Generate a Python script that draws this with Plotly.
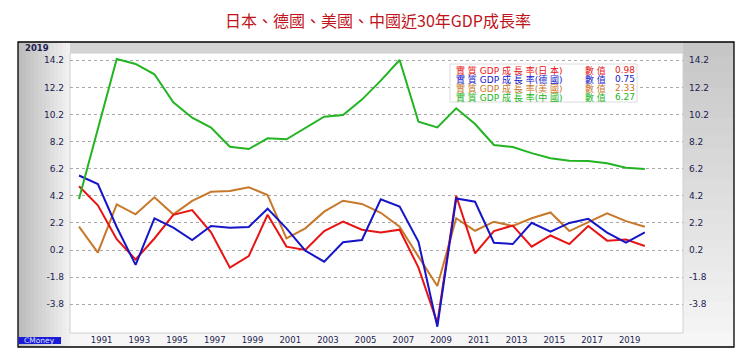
import plotly.graph_objects as go

# ---------------- data ----------------
years = list(range(1990, 2021))

japan = [4.9, 3.5, 1.0, -0.5, 1.05, 2.8, 3.15, 1.5, -1.1, -0.25, 2.8, 0.45, 0.2, 1.6, 2.3,
         1.7, 1.5, 1.7, -1.1, -5.2, 4.2, -0.05, 1.6, 2.0, 0.45, 1.27, 0.64, 1.97, 0.89, 0.98, 0.5]
germany = [5.7, 5.07, 1.9, -0.9, 2.54, 1.85, 0.94, 1.97, 1.85, 1.9, 3.25, 1.8, 0.15, -0.66, 0.77,
           0.94, 3.94, 3.4, 0.81, -5.46, 4.0, 3.76, 0.74, 0.64, 2.21, 1.55, 2.2, 2.5, 1.48, 0.75, 1.5]
usa = [1.92, 0.0, 3.57, 2.83, 4.09, 2.83, 3.82, 4.5, 4.55, 4.83, 4.26, 1.06, 1.8, 3.03, 3.84,
       3.6, 2.95, 1.92, -0.29, -2.46, 2.54, 1.62, 2.29, 1.97, 2.54, 2.97, 1.6, 2.25, 2.91, 2.33, 1.92]
china = [3.96, 9.2, 14.3, 13.93, 13.17, 11.1, 9.96, 9.23, 7.82, 7.65, 8.44, 8.37, 9.18, 10.04, 10.16,
         11.3, 12.7, 14.22, 9.67, 9.25, 10.66, 9.5, 7.95, 7.8, 7.35, 6.97, 6.79, 6.77, 6.6, 6.27, 6.18]

series_names = ["實 質 GDP 成 長 率(日 本)", "實 質 GDP 成 長 率(德 國)",
                "實 質 GDP 成 長 率(美 國)", "實 質 GDP 成 長 率(中 國)"]
value_label = "數 值"
legend_values = ["0.98", "0.75", "2.33", "6.27"]

x_tick_years = list(range(1991, 2020, 2))
x_tick_labels = [str(y) for y in x_tick_years]
y_tick_vals = [-3.8, -1.8, 0.2, 2.2, 4.2, 6.2, 8.2, 10.2, 12.2, 14.2]
y_tick_labels = ["-3.8", "-1.8", "0.2", "2.2", "4.2", "6.2", "8.2", "10.2", "12.2", "14.2"]

title_text = "日本、德國、美國、中國近30年GDP成長率"

# ---------------- styling ----------------
colors = ["#e81414", "#1616c8", "#c8782a", "#22b422"]
navy = "#1c1c50"

PAGE_W, PAGE_H = 754, 361
OFF = 8  # default body margin of the html page
L, R, T, B = 70, 683, 53, 333   # plot area in page pixels
PW, PH = R - L, B - T
LABEL_SHIFT = 0.2  # x tick labels sit slightly right of the year points


def px(x):
    return (x - L) / PW


def py(y):
    return (B - y) / PH


fig = go.Figure()

draw_order = [2, 0, 1, 3]
all_series = [japan, germany, usa, china]
for i in draw_order:
    fig.add_trace(go.Scatter(x=years, y=all_series[i], mode="lines", name=series_names[i],
                             line=dict(color=colors[i], width=2), showlegend=False,
                             hoverinfo="x+y"))

# invisible trace to activate right axis
fig.add_trace(go.Scatter(x=[years[0]], y=[china[0]], yaxis="y2", mode="markers",
                         marker=dict(opacity=0), showlegend=False, hoverinfo="skip"))

shapes = []


def rect(x0, y0, x1, y1, fill, line=None, layer="below"):
    shapes.append(dict(type="rect", xref="paper", yref="paper",
                       x0=px(x0), x1=px(x1), y0=py(y1), y1=py(y0),
                       fillcolor=fill, line=line if line else dict(width=0), layer=layer))


def gray(v):
    v = int(round(v))
    return "#%02x%02x%02x" % (v, v, v)


# frame base
rect(18, 42, 734, 347, "#e2e2e2")
# left panel horizontal gradient
n = 13
for i in range(n):
    x0 = 18 + i * (52 / n)
    rect(x0, 42, x0 + 52 / n + 0.5, 347, gray(0xbc + (0xf0 - 0xbc) * i / (n - 1)))
# top strip
rect(70, 42, 684, 53, "#d4d4d4")
# right panel vertical gradient
n = 20
for i in range(n):
    y0 = 42 + i * (305 / n)
    rect(683, y0, 734, y0 + 305 / n + 0.5, gray(0xc6 + (0xf6 - 0xc6) * i / (n - 1)))
# bottom strip
rect(70, 333, 683, 347, "#f6f6f6")
# white plot panel
rect(70, 53, 683, 333, "white", line=dict(color="#d0d0d0", width=1))
# outer border
rect(18, 42, 734, 347, "rgba(0,0,0,0)", line=dict(color="black", width=1.3))
# CMoney logo background
rect(18.5, 337, 61, 344, "#1a1ad8")
# legend box
rect(450, 64, 637, 102, "white", line=dict(color="#dcdcdc", width=1), layer="above")

annotations = [
    dict(text=title_text, x=px(378), y=py(20), xref="paper", yref="paper", showarrow=False,
         xanchor="center", yanchor="middle",
         font=dict(family="Noto Sans CJK TC", size=16, color="#c0141c")),
    dict(text="<b>2019</b>", x=px(22.5), y=py(48), xref="paper", yref="paper", showarrow=False,
         xanchor="left", yanchor="middle",
         font=dict(family="DejaVu Sans", size=8.5, color=navy)),
    dict(text="CMoney", x=px(39.8), y=py(340.7), xref="paper", yref="paper", showarrow=False,
         xanchor="center", yanchor="middle",
         font=dict(family="DejaVu Sans", size=7.5, color="#d8e0ff")),
]
row_y = [70, 79, 88, 97]
for i in range(4):
    for txt, xx in ((series_names[i], 454), (value_label, 583), (legend_values[i], 613)):
        annotations.append(dict(
            text=txt, x=px(xx), y=py(row_y[i]), xref="paper", yref="paper", showarrow=False,
            xanchor="left", yanchor="middle",
            font=dict(family="DejaVu Sans, Noto Sans CJK TC", size=9, color=colors[i])))

axis_font_y = dict(family="DejaVu Sans", size=9, color=navy)
yrange = [0.2 - (B - 250) / 13.55, 0.2 + (250 - T) / 13.55]
xrange = [1990 - (79 - L) / 18.86, 1990 + (R - 79) / 18.86]

fig.update_layout(
    width=PAGE_W - OFF, height=PAGE_H - OFF, autosize=False,
    margin=dict(l=L - OFF, r=PAGE_W - R, t=T - OFF, b=PAGE_H - B, pad=0),
    paper_bgcolor="white", plot_bgcolor="rgba(0,0,0,0)",
    xaxis=dict(range=xrange, tickvals=[y + LABEL_SHIFT for y in x_tick_years],
               ticktext=x_tick_labels,
               showgrid=False, zeroline=False, showline=False, ticks="",
               tickfont=dict(family="DejaVu Sans", size=8.5, color=navy),
               ticklabelstandoff=0, fixedrange=True),
    yaxis=dict(range=yrange, tickvals=y_tick_vals, ticktext=y_tick_labels,
               showgrid=True, gridcolor="#a8a8a8", griddash="dot", gridwidth=1,
               zeroline=False, showline=False, ticks="", tickfont=axis_font_y,
               ticklabelstandoff=5, fixedrange=True),
    yaxis2=dict(range=yrange, tickvals=y_tick_vals, ticktext=y_tick_labels,
                overlaying="y", side="right", showgrid=False, zeroline=False,
                showline=False, ticks="", tickfont=axis_font_y,
                ticklabelstandoff=5, fixedrange=True),
    shapes=shapes,
    annotations=annotations,
    showlegend=False,
)

fig.write_html("out.html")
